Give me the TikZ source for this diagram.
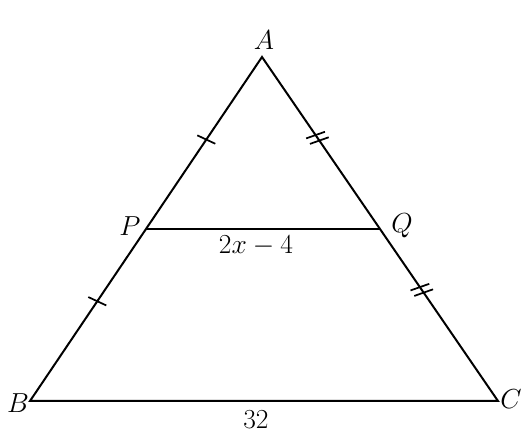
\documentclass[tikz,border=0pt]{standalone}
\usetikzlibrary{calc, positioning}

\begin{document}
\begin{tikzpicture}[
  x=0.0265cm, y=0.0265cm,
  line width=1.5pt,
  lbl/.style={inner sep=0pt, font=\fontsize{21}{25}\selectfont},
  tick/.style={line width=1.3pt}]

  \useasboundingbox (0,0) rectangle (526,439);
  \coordinate (A) at (262,382);
  \coordinate (B) at (30,38);
  \coordinate (C) at (498,38);
  \coordinate (P) at ($(A)!0.5!(B)$);
  \coordinate (Q) at ($(A)!0.5!(C)$);

  \draw (A) -- (B) -- (C) -- cycle;
  \draw (P) -- (Q);

  % single ticks on AB
  \foreach \t in {0.24,0.71}
    \draw[tick] ($(A)!\t!(B)!7.5pt!99:(B)$) -- ($(A)!\t!(B)!7.5pt!-81:(B)$);
  % double ticks on AC
  \foreach \t in {0.227,0.243,0.669,0.685}
    \draw[tick] ($(A)!\t!(C)!7.5pt!75:(C)$) -- ($(A)!\t!(C)!7.5pt!-105:(C)$);

  \node[lbl] (a) at (264,399) {$A$};
  \node[lbl] (b) at (18,36) {$B$};
  \node[lbl] (c) at (511,40) {$C$};
  \node[lbl] (p) at (130,213) {$P$};
  \node[lbl] (q) at (402,213) {$Q$};
  \node[lbl] (pq) at (256,193) {$2x-4$};
  \node[lbl] (bc) at (256,19) {$32$};
\end{tikzpicture}
\end{document}
